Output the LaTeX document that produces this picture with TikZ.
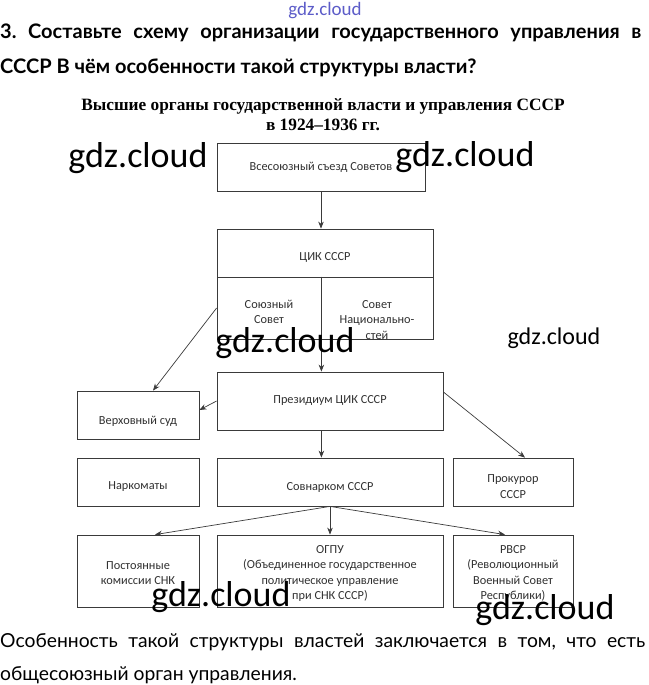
\documentclass[tikz,border=0pt]{standalone}
\usepackage{fontspec}
\setmainfont{Liberation Serif}
\newfontfamily\boxfont{Carlito}
\newfontfamily\headfont{Lato}
\usetikzlibrary{arrows.meta,positioning}
\frenchspacing
\definecolor{edge}{HTML}{3A3A3A}
\definecolor{boxtext}{HTML}{303030}
\definecolor{wmblue}{HTML}{5C5CC8}
\tikzset{
  orgbox/.style={
    rectangle, draw=edge, line width=0.8pt,
    font=\boxfont\fontsize{12.3}{15.5}\selectfont, text=boxtext,
    align=center, inner sep=2pt
  },
  boxlbl/.style={
    font=\boxfont\fontsize{12.3}{15.5}\selectfont, text=boxtext,
    align=center, inner sep=0pt, yshift=-#1
  },
  boxlbl/.default=4pt,
  linkarrow/.style={
    -{Stealth[length=7pt,width=5.5pt]}, line width=0.7pt, color=edge
  },
  wmark/.style={font=\boxfont\fontsize{#1}{#1}\selectfont, inner sep=0pt},
  wmark/.default=36,
}

\begin{document}
\begin{tikzpicture}[x=1pt, y=-1pt]
  \useasboundingbox (0,0) rectangle (648,685);
  % question
  \node[anchor=base west, inner sep=0pt, font=\headfont\bfseries\fontsize{20}{35}\selectfont] (q1) at (0,39)
    {\makebox[641pt][s]{3. Составьте схему организации государственного управления в}};
  \node[anchor=base west, inner sep=0pt, font=\headfont\bfseries\fontsize{20}{35}\selectfont] (q2) at (0,74)
    {СССР В чём особенности такой структуры власти?};
  % caption
  \node[font=\bfseries\fontsize{17.3}{20}\selectfont, align=center, inner sep=0pt] (cap) at (323,115)
    {Высшие органы государственной власти и управления СССР\\в 1924--1936 гг.};
  % scheme
  \node[orgbox, minimum width=208pt, minimum height=48pt] (congr) at (321,167) {Всесоюзный съезд Советов};
  \node[orgbox, minimum width=216pt, minimum height=48pt,
        label={[boxlbl]center:ЦИК СССР}] (cik) at (325,253) {};
  \node[orgbox, minimum width=104pt, minimum height=62pt,
        label={[boxlbl]center:{Союзный\\Совет}}] (union) at (269,308) {};
  \node[orgbox, minimum width=112pt, minimum height=62pt,
        label={[boxlbl=12pt]center:{Совет\\Национально-\\стей}}] (natio) at (377,308) {};
  \node[orgbox, minimum width=226pt, minimum height=58pt] (presid) at (330,401) {Президиум ЦИК СССР};
  \node[orgbox, minimum width=122pt, minimum height=48pt,
        label={[boxlbl=6pt]center:Верховный суд}] (court) at (138,415) {};
  \node[orgbox, minimum width=122pt, minimum height=48pt,
        label={[boxlbl=5pt]center:Наркоматы}] (narkom) at (138,482) {};
  \node[orgbox, minimum width=226pt, minimum height=48pt,
        label={[boxlbl=5pt]center:Совнарком СССР}] (snk) at (330,482) {};
  \node[orgbox, minimum width=120pt, minimum height=48pt,
        label={[boxlbl=4.5pt]center:{Прокурор\\СССР}}] (prok) at (513,482) {};
  \node[orgbox, minimum width=122pt, minimum height=72pt,
        label={[boxlbl=2pt]center:{Постоянные\\комиссии СНК}}] (comm) at (138,571) {};
  \node[orgbox, minimum width=226pt, minimum height=72pt,
        label={[boxlbl=2.5pt]center:{ОГПУ\\(Объединенное государственное\\политическое управление\\при СНК СССР)}}] (ogpu) at (330,571) {};
  \node[orgbox, minimum width=120pt, minimum height=72pt,
        label={[boxlbl=2.5pt]center:{РВСР\\(Революционный\\Военный Совет\\Республики)}}] (rvsr) at (513,571) {};
  % links
  \draw[linkarrow] (congr) -- (congr |- cik.north);
  \draw[linkarrow] (union.north east) -- (union.north east |- presid.north);
  \draw[linkarrow] (union.west) -- ([xshift=15pt]court.north);
  \draw[linkarrow] (presid.west) -- ([yshift=5pt]court.east);
  \draw[linkarrow] ([yshift=9pt]presid.east) -- ([xshift=12pt]prok.north);
  \draw[linkarrow] (union.north east |- presid.south) -- (union.north east |- snk.north);
  \draw[linkarrow] (snk.south) -- ([xshift=17pt]comm.north);
  \draw[linkarrow] (snk.south) -- (ogpu.north);
  \draw[linkarrow] (snk.south) -- ([xshift=-8pt]rvsr.north);
  % answer
  \node[anchor=base west, inner sep=0pt, font=\headfont\fontsize{19.3}{35}\selectfont] (a1) at (0,647)
    {\makebox[645pt][s]{Особенность такой структуры властей заключается в том, что есть}};
  \node[anchor=base west, inner sep=0pt, font=\headfont\fontsize{19.3}{35}\selectfont] (a2) at (0,680)
    {общесоюзный орган управления.};
  % watermarks
  \node[wmark=19, text=wmblue] (wm0) at (325,11) {gdz.cloud};
  \node[wmark] (wm1) at (138,158) {gdz.cloud};
  \node[wmark] (wm2) at (465,157) {gdz.cloud};
  \node[wmark] (wm3) at (285,343) {gdz.cloud};
  \node[wmark=24] (wm4) at (554,338) {gdz.cloud};
  \node[wmark] (wm5) at (221,597) {gdz.cloud};
  \node[wmark] (wm6) at (545,610) {gdz.cloud};
\end{tikzpicture}
\end{document}
